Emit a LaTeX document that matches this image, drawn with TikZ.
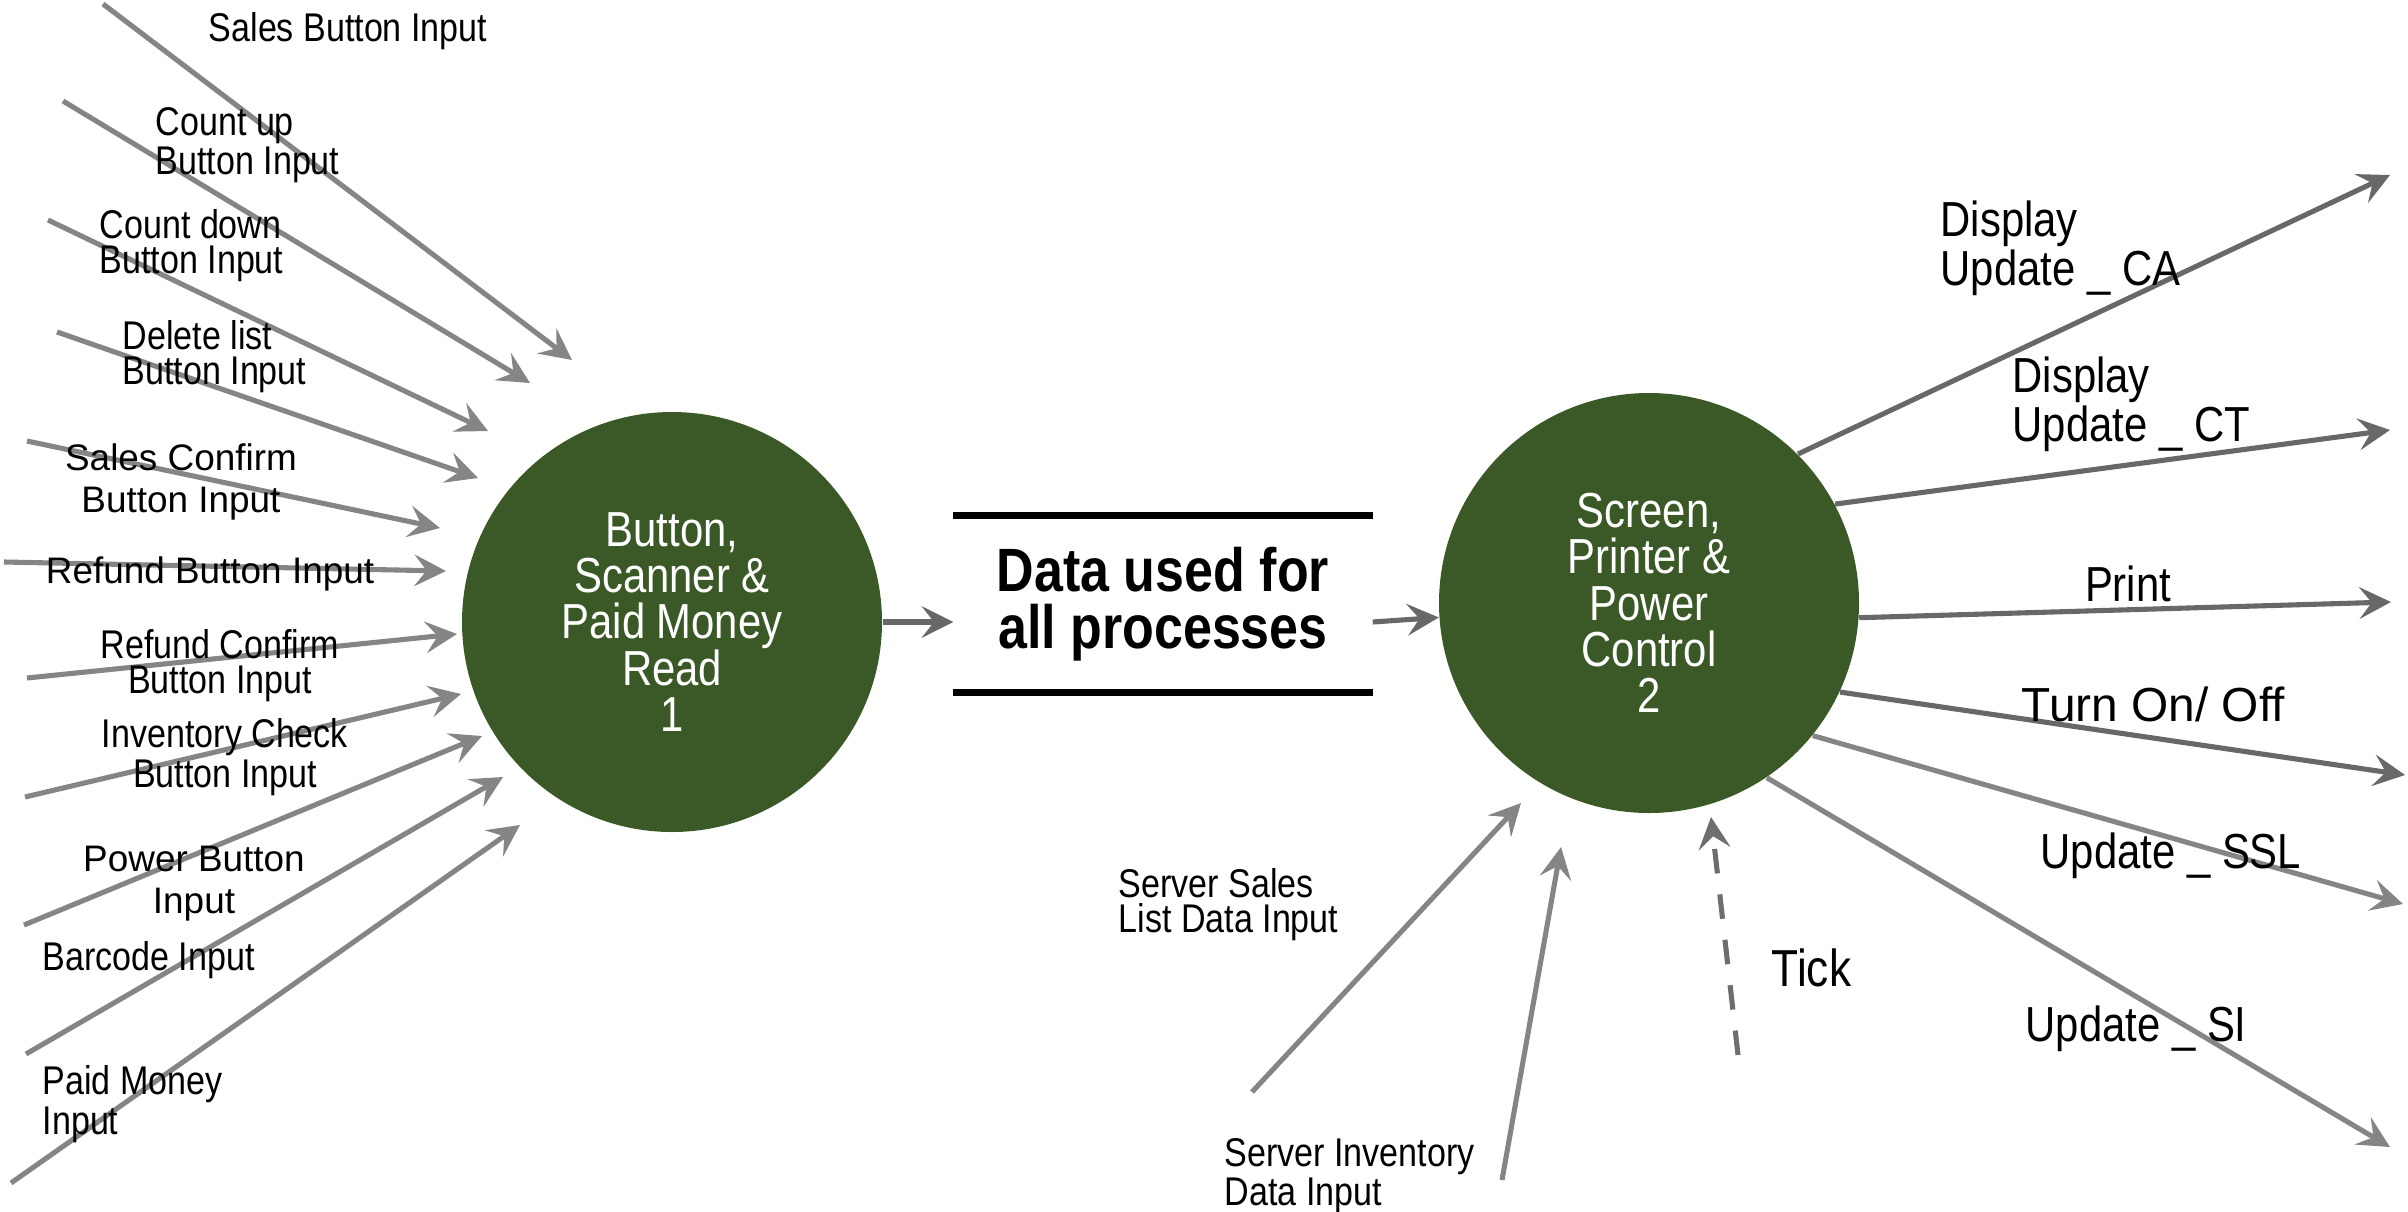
\documentclass[tikz,border=0pt]{standalone}
\usepackage{fontspec}
\setmainfont{Liberation Sans}
\newfontfamily\condfont[FakeStretch=0.85]{Liberation Sans}
\usepackage{tikz}
\usetikzlibrary{arrows.meta}

\definecolor{procgreen}{HTML}{3B5927}
\definecolor{ingray}{HTML}{858585}
\definecolor{outgray}{HTML}{686868}
\definecolor{tickgray}{HTML}{6E6E6E}

\tikzset{
  process/.style={circle, fill=procgreen, minimum size=4.2cm, inner sep=0pt, text=white, align=center,
                  font=\condfont\fontsize{14}{13.2}\selectfont},
  inflow/.style={draw=ingray, line width=1.45pt, -{Stealth[length=9pt,width=9pt,inset=3.5pt]}},
  outflow/.style={inflow, draw=outgray},
  lbl/.style={inner sep=0pt, align=left, font=\condfont\fontsize{11.4}{10}\selectfont},
  plainlbl/.style={inner sep=0pt, align=center, font=\fontsize{10.5}{12}\selectfont},
  biglbl/.style={inner sep=0pt, align=left, font=\condfont\fontsize{14}{12.8}\selectfont},
}

\begin{document}
\begin{tikzpicture}
        \useasboundingbox (0,0) rectangle (24.08,12.11);
        % processes and data store
        \node[process] (c1) at (6.72,5.89) {Button,\\Scanner \&\\Paid Money\\Read\\1};
        \node[process] (c2) at (16.49,6.08) {Screen,\\Printer \&\\Power\\Control\\2};
        \node[minimum width=4.18cm, minimum height=1.76cm, inner sep=0pt, align=center,
              font=\condfont\bfseries\fontsize{17.4}{16.2}\selectfont] (store) at (11.63,6.07) {Data used for\\all processes};
        \draw[line width=2pt] (store.north west) -- (store.north east);
        \draw[line width=2pt] (store.south west) -- (store.south east);
        \draw[outflow] (c1) -- (c1 -| store.west);
        \draw[outflow] (store.east |- c1) -- (c2);

        % inputs of process 1
        \coordinate (s1) at (1.03,12.07);  \coordinate (t1) at (5.72,8.51);
        \coordinate (s2) at (0.63,11.10);  \coordinate (t2) at (5.30,8.28);
        \coordinate (s3) at (0.48,9.91);   \coordinate (t3) at (4.88,7.80);
        \coordinate (s4) at (0.57,8.79);   \coordinate (t4) at (4.78,7.33);
        \coordinate (s5) at (0.27,7.70);   \coordinate (t5) at (4.40,6.83);
        \coordinate (s6) at (0.04,6.49);   \coordinate (t6) at (4.46,6.40);
        \coordinate (s7) at (0.27,5.33);   \coordinate (t7) at (4.57,5.77);
        \coordinate (s8) at (0.25,4.14);   \coordinate (t8) at (4.61,5.17);
        \coordinate (s9) at (0.24,2.86);   \coordinate (t9) at (4.82,4.75);
        \coordinate (s10) at (0.26,1.57);  \coordinate (t10) at (5.03,4.34);
        \coordinate (s11) at (0.11,0.28);  \coordinate (t11) at (5.20,3.86);
        \draw[inflow] (s1) -- (t1);
        \draw[inflow] (s2) -- (t2);
        \draw[inflow] (s3) -- (t3);
        \draw[inflow] (s4) -- (t4);
        \draw[inflow] (s5) -- (t5);
        \draw[inflow] (s6) -- (t6);
        \draw[inflow] (s7) -- (t7);
        \draw[inflow] (s8) -- (t8);
        \draw[inflow] (s9) -- (t9);
        \draw[inflow] (s10) -- (t10);
        \draw[inflow] (s11) -- (t11);
        \node[lbl] (salesbtn) at (3.48,11.80) {Sales Button Input};
        \node[lbl, anchor=west] (cntup) at (1.55,10.66) {Count up\\Button Input};
        \node[lbl, anchor=west] (cntdown) at (0.99,9.65) {Count down\\Button Input};
        \node[lbl, anchor=west] (dellist) at (1.22,8.54) {Delete list\\Button Input};
        \node[plainlbl] (salesconf) at (1.81,7.29) {Sales Confirm\\Button Input};
        \node[plainlbl] (refundbtn) at (2.10,6.37) {Refund Button Input};
        \node[lbl, align=center] (refundconf) at (2.20,5.45) {Refund Confirm\\Button Input};
        \node[lbl, align=center] (invcheck) at (2.25,4.54) {Inventory Check\\Button Input};
        \node[plainlbl] (powerbtn) at (1.94,3.27) {Power Button\\Input};
        \node[lbl, anchor=west] (barcode) at (0.42,2.51) {Barcode Input};
        \node[lbl, anchor=west] (paidmoney) at (0.42,1.07) {Paid Money\\Input};

        % inputs of process 2
        \coordinate (srvsales) at (12.52,1.19);  \coordinate (srvsalesend) at (15.21,4.08);
        \coordinate (srvinv) at (15.02,0.31);    \coordinate (srvinvend) at (15.61,3.64);
        \coordinate (tick) at (17.38,1.56);      \coordinate (tickend) at (17.11,3.94);
        \draw[inflow] (srvsales) -- (srvsalesend);
        \draw[inflow] (srvinv) -- (srvinvend);
        \draw[inflow, draw=tickgray, dash pattern=on 7pt off 6pt] (tick) -- (tickend);
        \node[lbl, anchor=west] (srvsaleslbl) at (11.18,3.06) {Server Sales\\ List Data Input};
        \node[lbl, anchor=west] (srvinvlbl) at (12.24,0.35) {Server Inventory\\Data Input};
        \node[biglbl, anchor=west, font=\condfont\fontsize{14.8}{14}\selectfont] (ticklbl) at (17.71,2.43) {Tick};

        % outputs of process 2
        \coordinate (caend) at (23.90,10.36);
        \coordinate (ctend) at (23.90,7.81);
        \coordinate (prend) at (23.91,6.09);
        \coordinate (tuend) at (24.05,4.36);
        \coordinate (ssend) at (24.03,3.07);
        \coordinate (siend) at (23.90,0.64);
        \draw[outflow] (c2.45) -- (caend);
        \draw[outflow] (c2.28) -- (ctend);
        \draw[outflow] (c2.-4.5) -- (prend);
        \draw[outflow] (c2.-25) -- (tuend);
        \draw[inflow] (c2.-39) -- (ssend);
        \draw[inflow] (c2.-56) -- (siend);
        \node[biglbl, anchor=west] (calbl) at (19.40,9.63) {Display\\Update \_ CA};
        \node[biglbl, anchor=west] (ctlbl) at (20.12,8.07) {Display\\Update \_ CT};
        \node[biglbl] (prlbl) at (21.28,6.27) {Print};
        \node[inner sep=0pt, anchor=west, font=\fontsize{13.6}{14}\selectfont] (tulbl) at (20.21,5.07) {Turn On/ Off};
        \node[biglbl, anchor=west] (sslbl) at (20.40,3.55) {Update \_ SSL};
        \node[biglbl, anchor=west] (silbl) at (20.25,1.82) {Update \_ SI};
\end{tikzpicture}
\end{document}
